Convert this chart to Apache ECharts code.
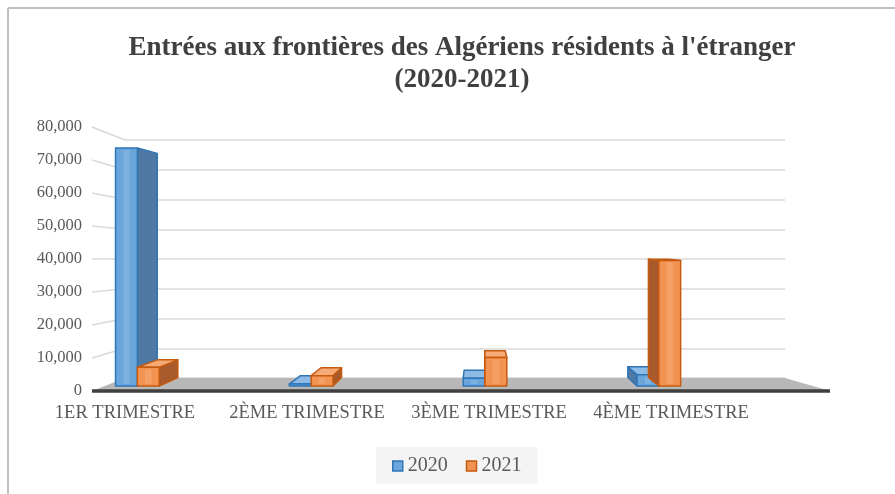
<!DOCTYPE html>
<html><head><meta charset="utf-8">
<script src="https://cdn.jsdelivr.net/npm/echarts@6/dist/echarts.min.js"></script>
<style>html,body{margin:0;padding:0;background:#fff}#c{width:895px;height:494px}</style>
</head><body><div id="c"></div>
<script>
const titleText = "Entrées aux frontières des Algériens résidents à l'étranger\n(2020-2021)";
const categories = ['1ER TRIMESTRE', '2ÈME TRIMESTRE', '3ÈME TRIMESTRE', '4ÈME TRIMESTRE'];
const seriesNames = ['2020', '2021'];
const values2020 = [73500, 600, 2400, 3500];
const values2021 = [5800, 3200, 8800, 38800];
const yTicks = [0, 10000, 20000, 30000, 40000, 50000, 60000, 70000, 80000];

const FONT = 'Liberation Serif';
const VP = [480, 240], T = 0.058;
const palette = [
  { front: '#6aa5dc', side: '#4f78a4', top: '#8dbbe6', stroke: '#2e75b6' },
  { front: '#f39352', side: '#a85a2b', top: '#f6aa76', stroke: '#c55a11' }
];

function makeRender(si) {
  const pal = palette[si];
  return function (params, api) {
    const ci = api.value(0), v = api.value(1);
    const c0 = api.coord([ci, 0]);
    const c1 = api.coord([ci, v]);
    const catW = api.size([1, 0])[0];
    const w = catW * 0.12;
    const shift = (400 - c0[0]) * 0.045;
    const xl = c0[0] + shift + (si === 0 ? -w : 0);
    const xr = xl + w;
    const yb = c0[1], yt = c1[1];
    const back = p => [p[0] + T * (VP[0] - p[0]), p[1] + T * (VP[1] - p[1])];
    const children = [];
    const st = (fill) => ({ fill: fill, stroke: pal.stroke, lineWidth: 1.5, lineJoin: 'round' });
    if (VP[0] > xr) {
      children.push({ type: 'polygon', shape: { points: [[xr, yt], [xr, yb], back([xr, yb]), back([xr, yt])] }, style: st(pal.side) });
    } else if (VP[0] < xl) {
      children.push({ type: 'polygon', shape: { points: [[xl, yt], [xl, yb], back([xl, yb]), back([xl, yt])] }, style: st(pal.side) });
    }
    if (yt > VP[1]) {
      children.push({ type: 'polygon', shape: { points: [[xl, yt], [xr, yt], back([xr, yt]), back([xl, yt])] }, style: st(pal.top) });
    }
    children.push({ type: 'rect', shape: { x: xl, y: yt, width: w, height: yb - yt }, style: st(pal.front) });
    children.push({ type: 'rect', shape: { x: xl + w * 0.35, y: yt + 2, width: w * 0.3, height: Math.max(0, yb - yt - 4) }, style: { fill: 'rgba(255,255,255,0.12)' } });
    return { type: 'group', children: children };
  };
}

const chart = echarts.init(document.getElementById('c'), null, { renderer: 'canvas' });
const fmt = v => v.toLocaleString('en-US');

chart.setOption({
  animation: false,
  backgroundColor: '#ffffff',
  title: {
    text: titleText, left: 457, top: 27, textAlign: 'center',
    textStyle: { fontFamily: FONT, fontWeight: 'bold', fontSize: 27, color: '#404040', lineHeight: 32 }
  },
  legend: {
    data: [
      { name: seriesNames[0], itemStyle: { color: palette[0].front, borderColor: palette[0].stroke, borderWidth: 1.5 } },
      { name: seriesNames[1], itemStyle: { color: palette[1].front, borderColor: palette[1].stroke, borderWidth: 1.5 } }
    ],
    left: 376, top: 447, icon: 'rect', itemWidth: 10, itemHeight: 10, itemGap: 18, itemTextGap: 3,
    backgroundColor: '#f4f4f4', padding: [9, 16, 8, 16],
    textStyle: { fontFamily: FONT, fontSize: 20, color: '#595959' }
  },
  grid: [
    { left: 92, right: 65, top: 127, bottom: 103 },
    { left: 125, right: 110, top: 140, bottom: 116 },
    { left: 34, right: 133, top: 127, bottom: 108 }
  ],
  xAxis: [
    { gridIndex: 0, type: 'value', min: 0, max: 1, show: false },
    { gridIndex: 1, type: 'value', min: 0, max: 1, show: false },
    {
      gridIndex: 2, type: 'category', data: categories,
      axisLine: { show: false }, axisTick: { show: false },
      axisLabel: { interval: 0, hideOverlap: false, margin: 18, fontFamily: FONT, fontSize: 18.5, color: '#595959' }
    }
  ],
  yAxis: [
    {
      gridIndex: 0, type: 'value', min: yTicks[0], max: yTicks[yTicks.length - 1], interval: yTicks[1] - yTicks[0],
      axisLine: { show: false }, axisTick: { show: false }, splitLine: { show: false },
      axisLabel: { margin: 10, fontFamily: FONT, fontSize: 16.5, color: '#595959', formatter: fmt }
    },
    {
      gridIndex: 1, type: 'value', min: yTicks[0], max: yTicks[yTicks.length - 1], interval: yTicks[1] - yTicks[0],
      axisLine: { show: false }, axisTick: { show: false }, axisLabel: { show: false },
      splitLine: { lineStyle: { color: '#d9d9d9', width: 1.5 } }
    },
    { gridIndex: 2, type: 'value', min: yTicks[0], max: yTicks[yTicks.length - 1], show: false }
  ],
  series: [
    {
      name: seriesNames[0], type: 'custom', xAxisIndex: 2, yAxisIndex: 2, z: 5,
      itemStyle: { color: palette[0].front, borderColor: palette[0].stroke },
      renderItem: makeRender(0), data: values2020.map((v, i) => [i, v])
    },
    {
      name: seriesNames[1], type: 'custom', xAxisIndex: 2, yAxisIndex: 2, z: 6,
      itemStyle: { color: palette[1].front, borderColor: palette[1].stroke },
      renderItem: makeRender(1), data: values2021.map((v, i) => [i, v])
    }
  ]
});

// decorative frame, floor and slanted grid connectors
const yA = v => chart.convertToPixel({ yAxisIndex: 0 }, v);
const yB = v => chart.convertToPixel({ yAxisIndex: 1 }, v);
const xAl = chart.convertToPixel({ xAxisIndex: 0 }, 0);
const xAr = chart.convertToPixel({ xAxisIndex: 0 }, 1);
const xBl = chart.convertToPixel({ xAxisIndex: 1 }, 0);
const xBr = chart.convertToPixel({ xAxisIndex: 1 }, 1);
const graphics = [
  { type: 'line', z: 0, shape: { x1: 8, y1: 8, x2: 895, y2: 8 }, style: { stroke: '#bfbfbf', lineWidth: 2 } },
  { type: 'line', z: 0, shape: { x1: 8, y1: 8, x2: 8, y2: 494 }, style: { stroke: '#bfbfbf', lineWidth: 2 } },
  { type: 'polygon', z: 1, shape: { points: [[xAl, yA(0)], [xBl, yB(0)], [xBr, yB(0)], [xAr, yA(0)]] }, style: { fill: '#b8b8b8' } },
  { type: 'line', z: 2, shape: { x1: xAl, y1: yA(0), x2: xAr, y2: yA(0) }, style: { stroke: '#3f3f3f', lineWidth: 3.5 } }
];
yTicks.slice(1).forEach(v => {
  graphics.push({ type: 'line', z: 1, shape: { x1: xAl, y1: yA(v), x2: xBl, y2: yB(v) }, style: { stroke: '#d9d9d9', lineWidth: 1.5 } });
});
chart.setOption({ graphic: graphics });
</script>
</body></html>
